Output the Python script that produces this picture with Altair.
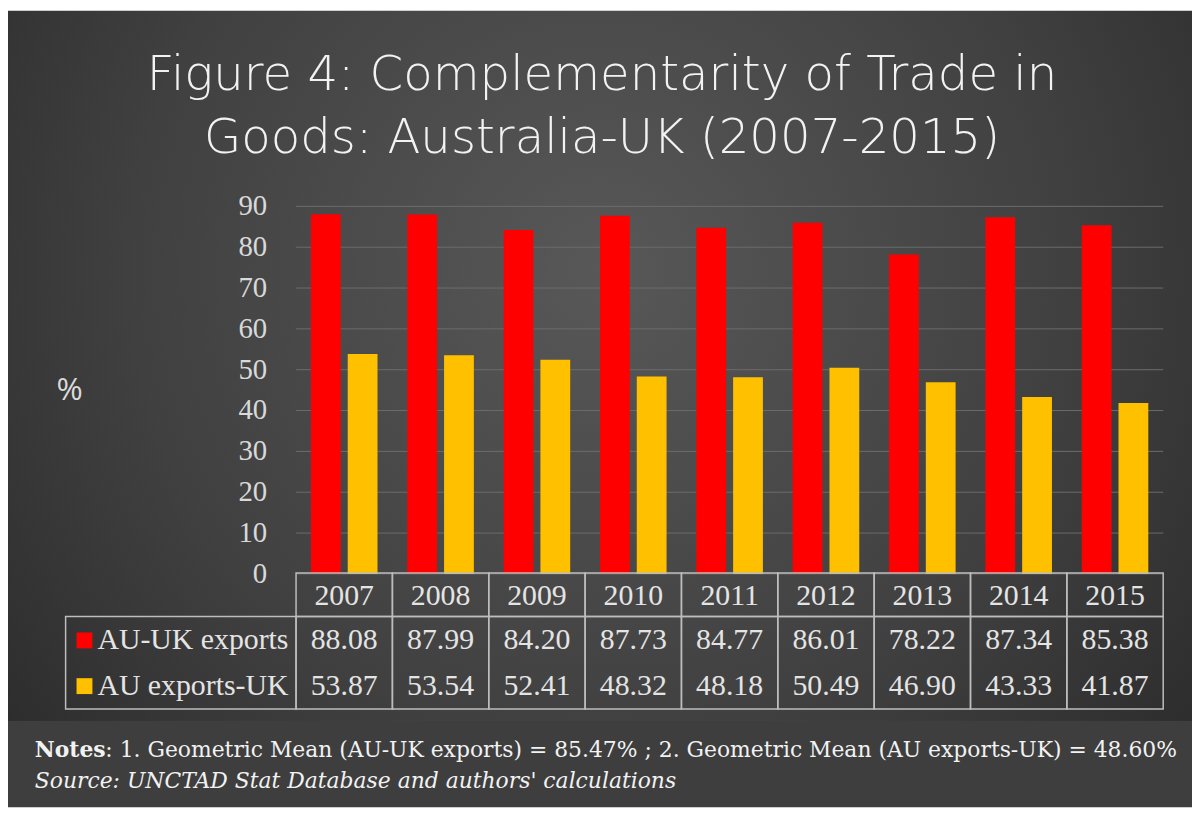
import altair as alt
import pandas as pd

# ---------------- data ----------------
years = ["2007", "2008", "2009", "2010", "2011", "2012", "2013", "2014", "2015"]
au_uk_exports = [88.08, 87.99, 84.20, 87.73, 84.77, 86.01, 78.22, 87.34, 85.38]
au_exports_uk = [53.87, 53.54, 52.41, 48.32, 48.18, 50.49, 46.90, 43.33, 41.87]
series_names = ["AU-UK exports", "AU exports-UK"]
series_colors = ["#FF0000", "#FFC000"]
y_ticks = [0, 10, 20, 30, 40, 50, 60, 70, 80, 90]
title_lines = ["Figure 4: Complementarity of Trade in", "Goods: Australia-UK (2007-2015)"]
y_title = "%"
notes_bold = "Notes"
notes_rest = ": 1. Geometric Mean (AU-UK exports) = 85.47% ; 2. Geometric Mean (AU exports-UK) = 48.60%"
source_text = "Source: UNCTAD Stat Database and authors' calculations"

# ---------------- layout (pixels) ----------------
W, H = 1192, 802
PLOT_X0, PLOT_X1 = 290, 1163
Y_BOTTOM, Y_TOP = 567, 197
TABLE_TOP, TABLE_MID, TABLE_BOT = 566, 610, 703
LEGEND_X0 = 58
NOTES_TOP = 715
ROW_Y = [634, 680]
SERIF = "Liberation Serif"
NOTE_FONT = "DejaVu Serif"
TXT = "#e4e4e4"
BORDER = "#bdbdbd"

bars_df = pd.DataFrame(
    [{"year": y, "series": series_names[0], "value": v} for y, v in zip(years, au_uk_exports)]
    + [{"year": y, "series": series_names[1], "value": v} for y, v in zip(years, au_exports_uk)]
)
years_df = pd.DataFrame({"year": years})
ticks_df = pd.DataFrame({"v": y_ticks, "label": [str(t) for t in y_ticks]})
one = pd.DataFrame({"k": [0]})

x_scale = alt.Scale(domain=years, range=[PLOT_X0, PLOT_X1], paddingInner=0, paddingOuter=0)
y_scale = alt.Scale(domain=[0, 90], range=[Y_BOTTOM, Y_TOP], nice=False, zero=False)
c_scale = alt.Scale(domain=series_names, range=series_colors)
X = alt.X("year:N", scale=x_scale, axis=None)

gradient = {
    "gradient": "radial",
    "x1": 0.5, "y1": 0.42, "r1": 0,
    "x2": 0.5, "y2": 0.42, "r2": 0.72,
    "stops": [
        {"offset": 0, "color": "#585858"},
        {"offset": 0.55, "color": "#404040"},
        {"offset": 1, "color": "#262626"},
    ],
}

layers = []

# background
layers.append(
    alt.Chart(one).mark_rect(fill=gradient).encode(
        x=alt.value(0), x2=alt.value(W), y=alt.value(0), y2=alt.value(NOTES_TOP)
    )
)
layers.append(
    alt.Chart(one).mark_rect(color="#3e3e3e").encode(
        x=alt.value(0), x2=alt.value(W), y=alt.value(NOTES_TOP), y2=alt.value(H)
    )
)

# title
for i, line in enumerate(title_lines):
    tdf = pd.DataFrame({"t": [line]})
    ty = 80 + i * 63
    layers.append(
        alt.Chart(tdf).mark_text(
            font="DejaVu Sans", fontSize=48.5, fontWeight=200, color="#f2f2f2",
            align="center", baseline="alphabetic",
        ).encode(x=alt.value(598), y=alt.value(ty), text="t:N")
    )

# gridlines
layers.append(
    alt.Chart(ticks_df).mark_rule(color="#6c6c6c", strokeWidth=1).encode(
        y=alt.Y("v:Q", scale=y_scale, axis=None), x=alt.value(PLOT_X0), x2=alt.value(PLOT_X1)
    )
)
# y tick labels
layers.append(
    alt.Chart(ticks_df).mark_text(
        font=SERIF, fontSize=29, color="#d9d9d9", align="right", baseline="middle"
    ).encode(y=alt.Y("v:Q", scale=y_scale, axis=None), x=alt.value(261), text="label:N")
)
# y title
layers.append(
    alt.Chart(pd.DataFrame({"t": [y_title]})).mark_text(
        font="Open Sans", fontSize=32, color="#d9d9d9", align="center", baseline="middle"
    ).encode(x=alt.value(62), y=alt.value(382), text="t:N")
)

# bars
layers.append(
    alt.Chart(bars_df).mark_bar(strokeWidth=1).encode(
        x=X,
        xOffset=alt.XOffset(
            "series:N",
            scale=alt.Scale(domain=series_names, paddingInner=0.19, paddingOuter=0.405),
        ),
        y=alt.Y("value:Q", scale=y_scale, axis=None),
        color=alt.Color("series:N", scale=c_scale, legend=None),
    )
)

# table cells
layers.append(
    alt.Chart(years_df).mark_rect(fillOpacity=0, stroke=BORDER, strokeWidth=1.5).encode(
        x=X, y=alt.value(TABLE_TOP), y2=alt.value(TABLE_MID)
    )
)
layers.append(
    alt.Chart(years_df).mark_rect(fillOpacity=0, stroke=BORDER, strokeWidth=1.5).encode(
        x=X, y=alt.value(TABLE_MID), y2=alt.value(TABLE_BOT)
    )
)
layers.append(
    alt.Chart(one).mark_rect(fillOpacity=0, stroke=BORDER, strokeWidth=1.5).encode(
        x=alt.value(LEGEND_X0), x2=alt.value(PLOT_X0), y=alt.value(TABLE_MID), y2=alt.value(TABLE_BOT)
    )
)
# year text
layers.append(
    alt.Chart(years_df).mark_text(font=SERIF, fontSize=30, color=TXT, baseline="middle").encode(
        x=X, y=alt.value(589), text="year:N"
    )
)
# values + legend entries
for i, s in enumerate(series_names):
    sub = alt.Chart(bars_df).transform_filter(alt.datum.series == s)
    layers.append(
        sub.mark_text(font=SERIF, fontSize=30, color=TXT, baseline="middle").encode(
            x=X, y=alt.value(ROW_Y[i]), text=alt.Text("value:Q", format=".2f")
        )
    )
    ldf = pd.DataFrame({"series": [s]})
    layers.append(
        alt.Chart(ldf).mark_point(shape="square", filled=True, size=256, opacity=1).encode(
            x=alt.value(77), y=alt.value(ROW_Y[i]),
            color=alt.Color("series:N", scale=c_scale, legend=None),
        )
    )
    layers.append(
        alt.Chart(ldf).mark_text(
            font=SERIF, fontSize=30, color=TXT, align="left", baseline="middle"
        ).encode(x=alt.value(90), y=alt.value(ROW_Y[i]), text="series:N")
    )

# notes
layers.append(
    alt.Chart(pd.DataFrame({"t": [notes_bold]})).mark_text(
        font=NOTE_FONT, fontSize=22, fontWeight="bold", color="#f2f2f2", align="left", baseline="middle"
    ).encode(x=alt.value(27), y=alt.value(744), text="t:N")
)
layers.append(
    alt.Chart(pd.DataFrame({"t": [notes_rest]})).mark_text(
        font=NOTE_FONT, fontSize=22, color="#f2f2f2", align="left", baseline="middle"
    ).encode(x=alt.value(98), y=alt.value(744), text="t:N")
)
layers.append(
    alt.Chart(pd.DataFrame({"t": [source_text]})).mark_text(
        font=NOTE_FONT, fontSize=22, fontStyle="italic", color="#f2f2f2", align="left", baseline="middle"
    ).encode(x=alt.value(27), y=alt.value(776), text="t:N")
)

chart = (
    alt.layer(*layers)
    .properties(width=W, height=H, autosize=alt.AutoSizeParams(type="none"), padding=0,
                background="#ffffff")
    .configure_view(stroke=None)
)

chart.save("out.html", embed_options={"renderer": "svg", "actions": False})
